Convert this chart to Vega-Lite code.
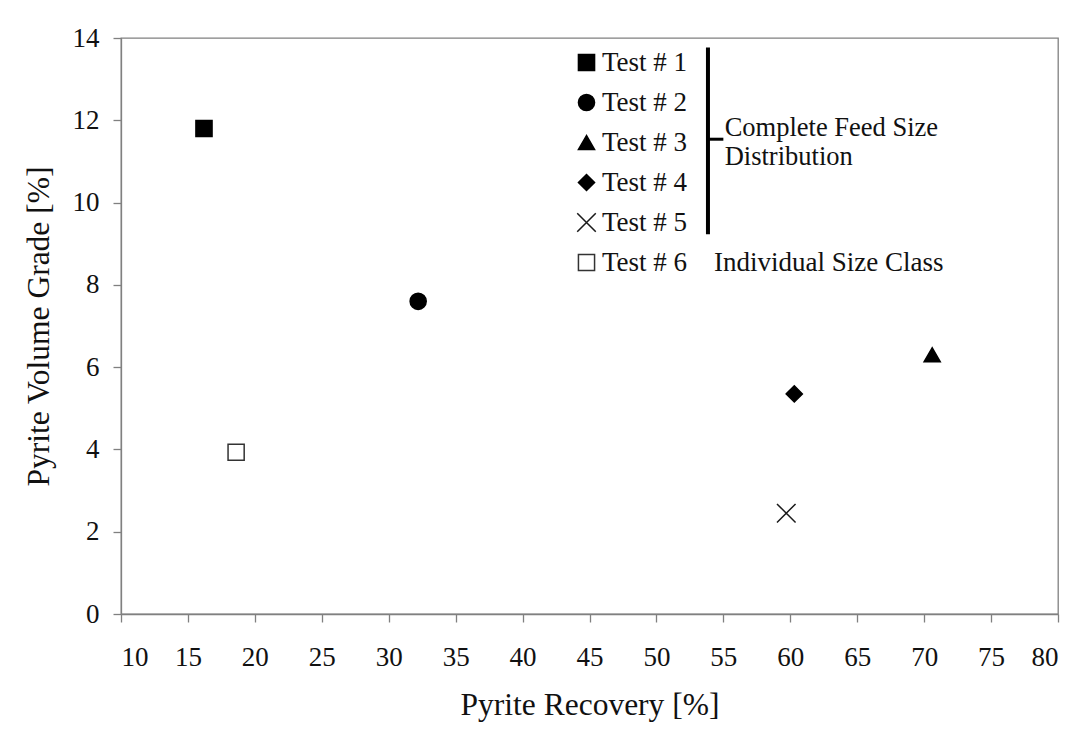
{
  "$schema": "https://vega.github.io/schema/vega-lite/v6.json",
  "width": 937,
  "height": 576,
  "autosize": "none",
  "padding": {"left": 121, "top": 38, "right": 20, "bottom": 119},
  "background": "white",
  "config": {
    "font": "Liberation Serif",
    "view": {"stroke": "#808080", "strokeWidth": 1.3},
    "axis": {
      "grid": false,
      "domainColor": "#808080",
      "domainWidth": 1.3,
      "tickColor": "#808080",
      "tickWidth": 1.3,
      "tickSize": 8,
      "labelFont": "Liberation Serif",
      "labelFontSize": 27,
      "labelColor": "#111111",
      "titleFont": "Liberation Serif",
      "titleFontSize": 31.5,
      "titleFontWeight": "normal",
      "titleColor": "#111111"
    }
  },
  "layer": [
    {
      "data": {
        "values": [
          {"test": "Test # 1", "recovery": 16.2, "grade": 11.8},
          {"test": "Test # 2", "recovery": 32.2, "grade": 7.6},
          {"test": "Test # 3", "recovery": 70.6, "grade": 6.3},
          {"test": "Test # 4", "recovery": 60.3, "grade": 5.35},
          {"test": "Test # 5", "recovery": 59.7, "grade": 2.45},
          {"test": "Test # 6", "recovery": 18.6, "grade": 3.93}
        ]
      },
      "mark": {"type": "point", "size": 260, "strokeWidth": 1.5, "opacity": 1},
      "encoding": {
        "x": {
          "field": "recovery",
          "type": "quantitative",
          "title": "Pyrite Recovery [%]",
          "scale": {"domain": [10, 80], "nice": false, "zero": false},
          "axis": {
            "values": [10, 15, 20, 25, 30, 35, 40, 45, 50, 55, 60, 65, 70, 75, 80],
            "labelPadding": 22,
            "titlePadding": 19
          }
        },
        "y": {
          "field": "grade",
          "type": "quantitative",
          "title": "Pyrite Volume Grade [%]",
          "scale": {"domain": [0, 14], "nice": false, "zero": false},
          "axis": {
            "values": [0, 2, 4, 6, 8, 10, 12, 14],
            "labelPadding": 14,
            "titlePadding": 17
          }
        },
        "shape": {
          "field": "test",
          "type": "nominal",
          "scale": {
            "domain": ["Test # 1", "Test # 2", "Test # 3", "Test # 4", "Test # 5", "Test # 6"],
            "range": ["square", "circle", "triangle-up", "diamond", "M-1.15,-1.15L1.15,1.15M-1.15,1.15L1.15,-1.15", "square"]
          },
          "legend": {
            "title": null,
            "orient": "none",
            "legendX": 452,
            "legendY": 11,
            "padding": 0,
            "labelFont": "Liberation Serif",
            "labelFontSize": 27,
            "labelColor": "#111111",
            "labelOffset": 2,
            "labelLimit": 0,
            "rowPadding": 12,
            "symbolSize": 260,
            "symbolStrokeWidth": 1.5,
            "labelExpr": "datum.label == 'Test # 6' ? 'Test # 6\u00a0\u00a0\u00a0\u00a0Individual Size Class' : datum.label"
          }
        },
        "fill": {
          "field": "test",
          "type": "nominal",
          "scale": {
            "domain": ["Test # 1", "Test # 2", "Test # 3", "Test # 4", "Test # 5", "Test # 6"],
            "range": ["black", "black", "black", "black", "transparent", "white"]
          },
          "legend": {"title": null}
        },
        "stroke": {
          "field": "test",
          "type": "nominal",
          "scale": {
            "domain": ["Test # 1", "Test # 2", "Test # 3", "Test # 4", "Test # 5", "Test # 6"],
            "range": ["black", "black", "black", "black", "#1a1a1a", "#333333"]
          },
          "legend": {"title": null}
        }
      }
    },
    {
      "data": {"values": [{"x": 53.85, "top": 13.77, "bottom": 9.23}]},
      "mark": {"type": "rule", "color": "black", "strokeWidth": 4},
      "encoding": {
        "x": {"field": "x", "type": "quantitative"},
        "y": {"field": "top", "type": "quantitative"},
        "y2": {"field": "bottom"}
      }
    },
    {
      "data": {"values": [{"x": 53.85, "x2": 55.0, "y": 11.54}]},
      "mark": {"type": "rule", "color": "black", "strokeWidth": 3},
      "encoding": {
        "x": {"field": "x", "type": "quantitative"},
        "x2": {"field": "x2"},
        "y": {"field": "y", "type": "quantitative"}
      }
    },
    {
      "data": {"values": [{"x": 55.1, "y": 11.81, "label": ["Complete Feed Size", "Distribution"]}]},
      "mark": {"type": "text", "align": "left", "baseline": "middle", "fontSize": 26.5, "lineHeight": 29, "font": "Liberation Serif", "color": "#111111"},
      "encoding": {
        "x": {"field": "x", "type": "quantitative"},
        "y": {"field": "y", "type": "quantitative"},
        "text": {"field": "label"}
      }
    }
  ]
}
